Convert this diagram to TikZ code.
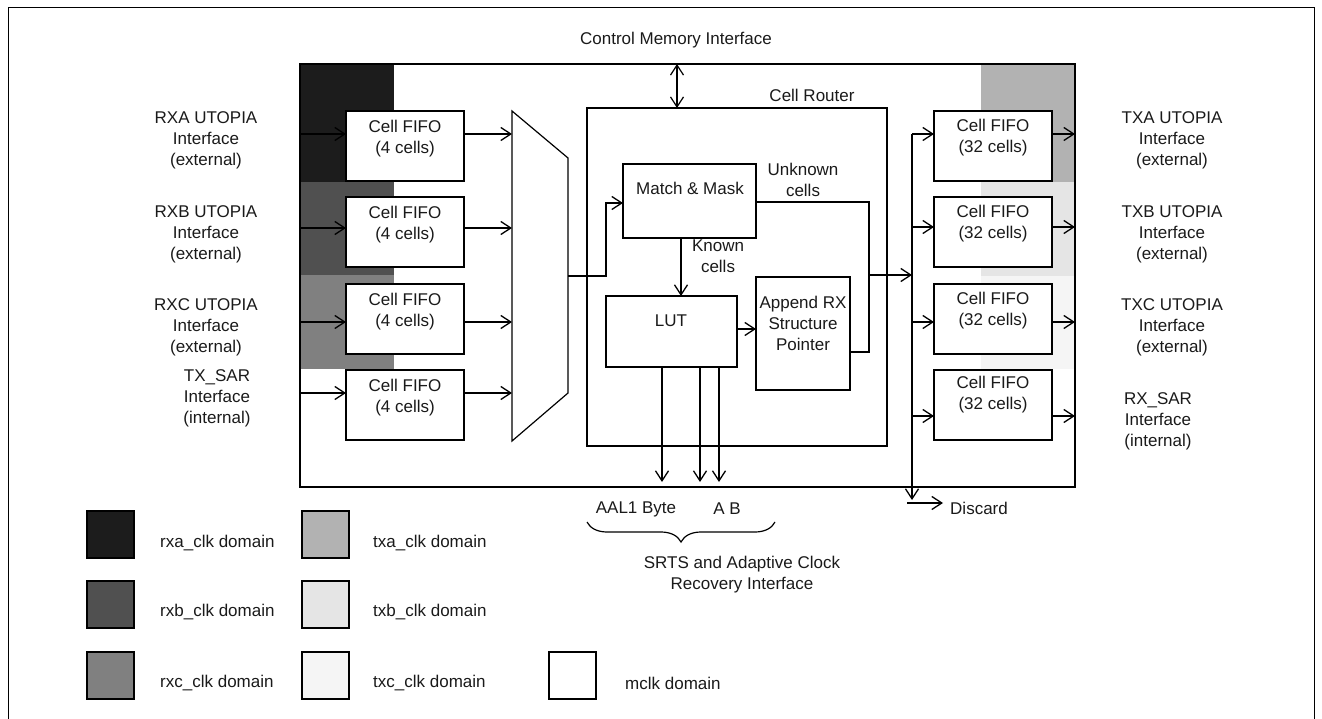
\documentclass[tikz,border=0pt]{standalone}
\usepackage{fontspec}
\setmainfont{Liberation Sans}
\usetikzlibrary{arrows.meta,decorations.pathreplacing,calc}
\definecolor{rxa}{HTML}{1C1C1C}
\definecolor{rxb}{HTML}{505050}
\definecolor{rxc}{HTML}{808080}
\definecolor{txa}{HTML}{B2B2B2}
\definecolor{txb}{HTML}{E5E5E5}
\definecolor{txc}{HTML}{F5F5F5}
\definecolor{ink}{HTML}{1A1A1A}
\begin{document}
\begin{tikzpicture}[x=1pt,y=-1pt,
  box/.style={draw,line width=1.8pt,fill=white,inner sep=0,outer sep=0,anchor=north west},
  fifo/.style={box,minimum width=118pt,minimum height=70pt},
  sq/.style={box,minimum width=47pt,minimum height=47pt},
  wire/.style={line width=1.5pt},
  arr/.style={line width=1.5pt,-{Straight Barb[length=10pt,width=13pt,line width=1.3pt]}},
  darr/.style={line width=1.3pt,{Straight Barb[length=10pt,width=13pt,line width=1.2pt]}-{Straight Barb[length=10pt,width=13pt,line width=1.2pt]}},
  lbl/.style={font=\fontsize{17}{21}\selectfont,align=center,inner sep=0,text=ink}]
\useasboundingbox (0,0) rectangle (1322,719);
% outer frame
\draw[line width=1pt] (8,719) -- (8,8) -- (1314,8) -- (1314,719);
% clock domain shading
\fill[rxa] (300,64) rectangle (394,182);
\fill[rxb] (300,182) rectangle (394,275);
\fill[rxc] (300,275) rectangle (394,369);
\fill[txa] (981,64) rectangle (1075,182);
\fill[txb] (981,182) rectangle (1075,276);
\fill[txc] (981,276) rectangle (1075,369);
% chip
\node[box,fill=none,minimum width=775pt,minimum height=423pt] (chip) at (300,64) {};
% left FIFOs
\node[fifo] (lf1) at (346,111) {};
\node[fifo] (lf2) at (346,197) {};
\node[fifo] (lf3) at (346,284) {};
\node[fifo] (lf4) at (346,370) {};
\node[lbl] (lf1t) at (405,139) {Cell FIFO\\(4 cells)};
\node[lbl] (lf2t) at (405,225) {Cell FIFO\\(4 cells)};
\node[lbl] (lf3t) at (405,312) {Cell FIFO\\(4 cells)};
\node[lbl] (lf4t) at (405,398) {Cell FIFO\\(4 cells)};
% right FIFOs
\node[fifo] (rf1) at (934,111) {};
\node[fifo] (rf2) at (934,197) {};
\node[fifo] (rf3) at (934,284) {};
\node[fifo] (rf4) at (934,370) {};
\node[lbl] (rf1t) at (993,138) {Cell FIFO\\(32 cells)};
\node[lbl] (rf2t) at (993,224) {Cell FIFO\\(32 cells)};
\node[lbl] (rf3t) at (993,311) {Cell FIFO\\(32 cells)};
\node[lbl] (rf4t) at (993,395) {Cell FIFO\\(32 cells)};
% mux
\draw[line width=1.2pt] (512,111) -- (568,158) -- (568,393) -- (512,441) -- cycle;
\coordinate (m1) at (512,134);
\coordinate (m2) at (512,228);
\coordinate (m3) at (512,322);
\coordinate (m4) at (512,393);
\coordinate (muxout) at (568,276);
% inputs
\coordinate (i1) at (300,134);
\coordinate (i2) at (300,228);
\coordinate (i3) at (300,322);
\coordinate (i4) at (300,393);
\draw[arr] (i1) -- (i1 -| lf1.west);
\draw[arr] (i2) -- (i2 -| lf2.west);
\draw[arr] (i3) -- (i3 -| lf3.west);
\draw[arr] (i4) -- (i4 -| lf4.west);
\draw[arr] (m1 -| lf1.east) -- (m1);
\draw[arr] (m2 -| lf2.east) -- (m2);
\draw[arr] (m3 -| lf3.east) -- (m3);
\draw[arr] (m4 -| lf4.east) -- (m4);
% cell router
\node[box,minimum width=300pt,minimum height=338pt] (router) at (587,108) {};
\node[lbl] (routert) at (812,95) {Cell Router};
\node[lbl] (cmi) at (676,40) {Control Memory Interface};
\coordinate (cm) at (677,64);
\draw[darr] (cm) -- (cm |- router.north);
% inner blocks
\node[box,minimum width=133pt,minimum height=74pt] (mm) at (623,164) {};
\node[lbl] (mmt) at (690,188) {Match \& Mask};
\node[box,minimum width=131pt,minimum height=71pt] (lut) at (606,296) {};
\node[lbl] (lutt) at (671,321) {LUT};
\node[box,minimum width=94pt,minimum height=113pt] (ap) at (756,277) {};
\node[lbl] (apt) at (803,323) {Append RX\\Structure\\Pointer};
% mux -> match & mask
\coordinate (mmin) at (623,203);
\draw[arr] (muxout) -- ++(38,0) |- (mmin);
% unknown cells
\coordinate (uk) at (869,202);
\draw[wire] (mm.east |- uk) -- (uk) -- (uk |- 0,352) -- ($(ap.north east)+(0,75)$);
\node[lbl] (ukt) at (803,180) {Unknown\\cells};
% known cells
\coordinate (kn) at (681,238);
\draw[arr] (kn) -- (kn |- lut.north);
\node[lbl] (knt) at (718,256) {Known\\cells};
% lut -> append
\coordinate (la) at (737,329);
\draw[arr] (la) -- (la -| ap.west);
% router output -> bus
\coordinate (bj) at (869,275);
\coordinate (bus) at (912,275);
\draw[arr] (bj) -- (bus);
% bus
\coordinate (bustop) at (912,134);
\coordinate (busbot) at (912,500);
\draw[arr] (bustop) -- (busbot);
\coordinate (o1) at (912,134);
\coordinate (o2) at (912,227);
\coordinate (o3) at (912,322);
\coordinate (o4) at (912,416);
\draw[arr] (o1) -- (o1 -| rf1.west);
\draw[arr] (o2) -- (o2 -| rf2.west);
\draw[arr] (o3) -- (o3 -| rf3.west);
\draw[arr] (o4) -- (o4 -| rf4.west);
\coordinate (e1) at (1075,134);
\coordinate (e2) at (1075,227);
\coordinate (e3) at (1075,322);
\coordinate (e4) at (1075,416);
\draw[arr] (e1 -| rf1.east) -- (e1);
\draw[arr] (e2 -| rf2.east) -- (e2);
\draw[arr] (e3 -| rf3.east) -- (e3);
\draw[arr] (e4 -| rf4.east) -- (e4);
% discard
\coordinate (ds) at (907,503);
\coordinate (de) at (943,503);
\draw[arr] (ds) -- (de);
\node[lbl,anchor=west] (dst) at (950,508) {Discard};
% LUT down arrows
\coordinate (d1) at (662,482);
\coordinate (d2) at (700,482);
\coordinate (d3) at (719,482);
\draw[arr] (d1 |- lut.south) -- (d1);
\draw[arr] (d2 |- lut.south) -- (d2);
\draw[arr] (d3 |- lut.south) -- (d3);
% bottom labels
\node[lbl] (aal) at (636,509) {AAL1 Byte};
\node[lbl] (ab) at (727,509) {A B};
\coordinate (br1) at (587,522);
\coordinate (br2) at (775,522);
\draw[line width=1.2pt,decorate,decoration={brace,mirror,amplitude=20pt}] (br1) -- (br2);
\node[lbl] (srts) at (742,575) {SRTS and Adaptive Clock\\Recovery Interface};
% side labels
\node[lbl] (rxat) at (206,140) {RXA UTOPIA\\Interface\\(external)};
\node[lbl] (rxbt) at (206,234) {RXB UTOPIA\\Interface\\(external)};
\node[lbl] (rxct) at (206,327) {RXC UTOPIA\\Interface\\(external)};
\node[lbl] (txst) at (217,398) {TX\_SAR\\Interface\\(internal)};
\node[lbl] (txat) at (1172,140) {TXA UTOPIA\\Interface\\(external)};
\node[lbl] (txbt) at (1172,234) {TXB UTOPIA\\Interface\\(external)};
\node[lbl] (txct) at (1172,327) {TXC UTOPIA\\Interface\\(external)};
\node[lbl] (rxst) at (1158,421) {RX\_SAR\\Interface\\(internal)};
% legend
\node[sq,fill=rxa] (g1) at (87,511) {};
\node[sq,fill=rxb] (g2) at (87,581) {};
\node[sq,fill=rxc] (g3) at (87,652) {};
\node[sq,fill=txa] (g4) at (302,511) {};
\node[sq,fill=txb] (g5) at (302,581) {};
\node[sq,fill=txc] (g6) at (302,652) {};
\node[sq,fill=white] (g7) at (549,652) {};
\node[lbl,anchor=west] (g1t) at (160,543) {rxa\_clk domain};
\node[lbl,anchor=west] (g2t) at (160,612) {rxb\_clk domain};
\node[lbl,anchor=west] (g3t) at (160,683) {rxc\_clk domain};
\node[lbl,anchor=west] (g4t) at (373,543) {txa\_clk domain};
\node[lbl,anchor=west] (g5t) at (373,612) {txb\_clk domain};
\node[lbl,anchor=west] (g6t) at (373,683) {txc\_clk domain};
\node[lbl,anchor=west] (g7t) at (625,683) {mclk domain};
\end{tikzpicture}
\end{document}
